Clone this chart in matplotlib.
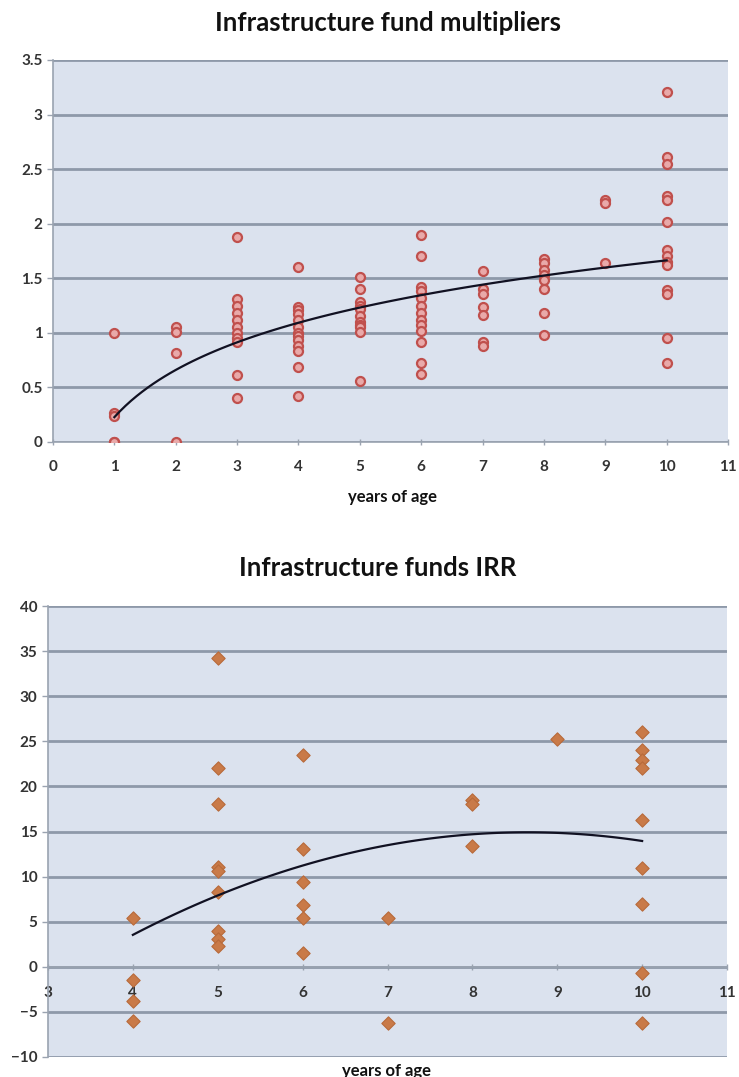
import matplotlib
matplotlib.use('Agg')
import matplotlib.pyplot as plt
import numpy as np

plt.rcParams['font.family'] = ['Lato', 'DejaVu Sans']

# multipliers by fund age (years)
mult_age = [1] * 5 + [2] * 4 + [3] * 11 + [4] * 13 + [5] * 11 + [6] * 13 + [7] * 7 + [8] * 8 + [9] * 3 + [10] * 14
mult_val = [1.0, 0.27, 0.24, 0.0, 0.0,
            1.05, 1.01, 0.82, 0.0,
            1.88, 1.31, 1.25, 1.18, 1.12, 1.05, 1.0, 0.95, 0.92, 0.61, 0.40,
            1.6, 1.24, 1.21, 1.17, 1.12, 1.05, 1.0, 0.97, 0.93, 0.88, 0.83, 0.69, 0.42,
            1.51, 1.40, 1.28, 1.25, 1.22, 1.15, 1.10, 1.07, 1.05, 1.01, 0.56,
            1.9, 1.7, 1.42, 1.38, 1.32, 1.25, 1.18, 1.12, 1.07, 1.02, 0.92, 0.72, 0.62,
            1.57, 1.40, 1.36, 1.24, 1.16, 0.92, 0.88,
            1.68, 1.64, 1.58, 1.53, 1.48, 1.40, 1.18, 0.98,
            2.22, 2.19, 1.64,
            3.21, 2.61, 2.55, 2.25, 2.22, 2.02, 1.76, 1.70, 1.65, 1.62, 1.39, 1.36, 0.95, 0.72]

# IRR (%) by fund age
irr_age = [4] * 4 + [5] * 9 + [6] * 6 + [7] * 2 + [8] * 3 + [9] * 1 + [10] * 9
irr_val = [5.4, -1.5, -3.8, -6.0,
           34.2, 22.0, 18.0, 11.1, 10.6, 8.3, 4.0, 3.1, 2.3,
           23.5, 13.1, 9.4, 6.8, 5.4, 1.5,
           5.4, -6.2,
           18.5, 18.0, 13.4,
           25.3,
           26.0, 24.0, 22.9, 22.0, 16.3, 11.0, 7.0, -0.7, -6.2]

BG = '#dbe2ee'
GRID = '#8e99a9'
TXT = '#333333'

fig = plt.figure(figsize=(7.39, 10.77), dpi=100)


def style_axes(ax):
    ax.set_facecolor(BG)
    ax.grid(axis='y', color=GRID, linewidth=2, zorder=0)
    ax.set_axisbelow(True)
    for s in ['top', 'right']:
        ax.spines[s].set_visible(False)
    ax.spines['left'].set_color('#9aa3b0')
    ax.spines['bottom'].set_color('#9aa3b0')
    ax.spines['left'].set_linewidth(1.2)
    ax.spines['bottom'].set_linewidth(1.2)
    ax.tick_params(colors='#9aa3b0', labelcolor=TXT, labelsize=11, length=4, width=1)
    for lab in ax.get_xticklabels() + ax.get_yticklabels():
        lab.set_fontweight('bold')


# --- top: multipliers
ax1 = fig.add_axes([53 / 739, 1 - 442 / 1077, 675 / 739, 382 / 1077])
ax1.scatter(mult_age, mult_val, s=42, marker='o', facecolor='#e9a9a9',
            edgecolor='#c0504d', linewidth=1.6, zorder=3)
b, a = np.polyfit(np.log(mult_age), mult_val, 1)
xs = np.linspace(1, 10, 100)
ax1.plot(xs, a + b * np.log(xs), color='#111122', linewidth=1.6, zorder=4)
ax1.set_xlim(0, 11)
ax1.set_ylim(0, 3.5)
ax1.set_xticks(range(0, 12))
ax1.set_yticks(np.arange(0, 3.6, 0.5))
ax1.set_yticklabels(['0', '0.5', '1', '1.5', '2', '2.5', '3', '3.5'])
ax1.tick_params(axis='x', direction='inout', pad=11)
style_axes(ax1)
fig.text(388 / 739, 1 - 23 / 1077, 'Infrastructure fund multipliers', ha='center', va='center',
         fontsize=18.5, fontweight='bold', color='#111111')
fig.text(392 / 739, 1 - 497 / 1077, 'years of age', ha='center', va='center',
         fontsize=12, fontweight='bold', color='#111111')

# --- bottom: IRR
ax2 = fig.add_axes([48 / 739, 1 - 1057 / 1077, 679 / 739, 451 / 1077])
ax2.scatter(irr_age, irr_val, s=46, marker='D', facecolor='#c97a48',
            edgecolor='#b86a3a', linewidth=0.8, zorder=3)
c2, c1, c0 = np.polyfit(irr_age, irr_val, 2)
xs2 = np.linspace(4, 10, 100)
ax2.plot(xs2, c0 + c1 * xs2 + c2 * xs2 ** 2, color='#111122', linewidth=1.6, zorder=4)
ax2.set_xlim(3, 11)
ax2.set_ylim(-10, 40)
ax2.set_xticks(range(3, 12))
ax2.set_yticks(range(-10, 41, 5))
ax2.spines['bottom'].set_position(('data', 0))
ax2.tick_params(axis='x', direction='inout', pad=12)
ax2.xaxis.set_zorder(5)
style_axes(ax2)
fig.text(378 / 739, 1 - 568 / 1077, 'Infrastructure funds IRR', ha='center', va='center',
         fontsize=18.5, fontweight='bold', color='#111111')
fig.text(387 / 739, 1 - 1071 / 1077, 'years of age', ha='center', va='center',
         fontsize=12, fontweight='bold', color='#111111')

fig.savefig('out.png', dpi=100, facecolor='white')
